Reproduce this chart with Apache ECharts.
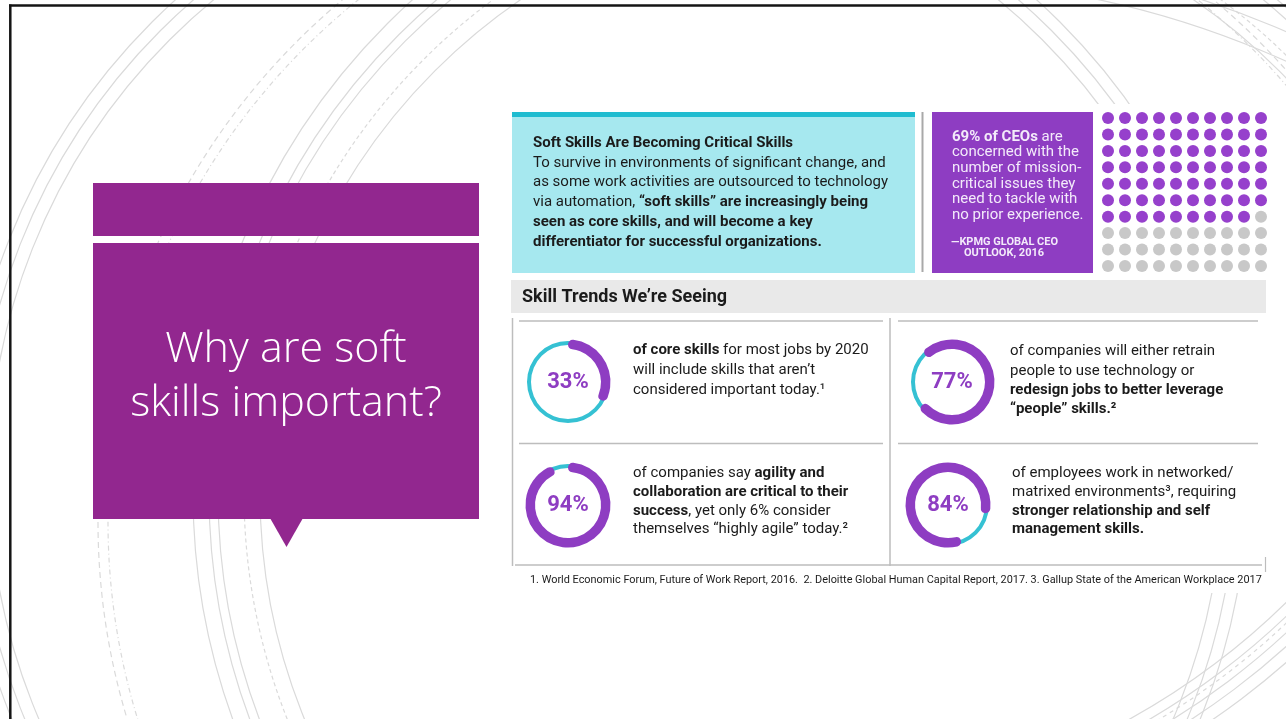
<!DOCTYPE html>
<html><head><meta charset="utf-8">
<script src="https://cdn.jsdelivr.net/npm/echarts@6/dist/echarts.min.js"></script>
<style>html,body{margin:0;padding:0;background:#fff;overflow:hidden}#c{width:1286px;height:719px}</style>
</head><body><div id="c"></div>
<script>
// ---------------- data ----------------
const titleLines = ['Why are soft', 'skills important?'];
const introLines = [
  [['b', 'Soft Skills Are Becoming Critical Skills']],
  [['n', 'To survive in environments of significant change, and']],
  [['n', 'as some work activities are outsourced to technology']],
  [['n', 'via automation, '], ['b', '“soft skills” are increasingly being']],
  [['b', 'seen as core skills, and will become a key']],
  [['b', 'differentiator for successful organizations.']]
];
const ceoShare = 69;      // dots filled out of 100
const ceoTotal = 100;
const ceoLines = [
  [['b', '69% of CEOs'], ['n', ' are']],
  [['n', 'concerned with the']],
  [['n', 'number of mission-']],
  [['n', 'critical issues they']],
  [['n', 'need to tackle with']],
  [['n', 'no prior experience.']]
];
const ceoSource = ['—KPMG GLOBAL CEO', 'OUTLOOK, 2016'];
const sectionTitle = 'Skill Trends We’re Seeing';
const statValues = [33, 77, 94, 84];
const statTexts = [
  [[['b', 'of core skills'], ['n', ' for most jobs by 2020']], [['n', 'will include skills that aren’t']], [['n', 'considered important today.¹']]],
  [[['n', 'of companies will either retrain']], [['n', 'people to use technology or']], [['b', 'redesign jobs to better leverage']], [['b', '“people” skills.²']]],
  [[['n', 'of companies say '], ['b', 'agility and']], [['b', 'collaboration are critical to their']], [['b', 'success'], ['n', ', yet only 6% consider']], [['n', 'themselves “highly agile” today.²']]],
  [[['n', 'of employees work in networked/']], [['n', 'matrixed environments³, requiring']], [['b', 'stronger relationship and self']], [['b', 'management skills.']]]
];
const footnote = '1. World Economic Forum, Future of Work Report, 2016.  2. Deloitte Global Human Capital Report, 2017. 3. Gallup State of the American Workplace 2017';

// ---------------- layout / style ----------------
const FONT = 'Roboto, "Liberation Sans", sans-serif';
const C = {
  slide: '#92278f', purple: '#8e3dc2', dot: '#9640cc', grayDot: '#c8c8c8',
  cyan: '#35c1d3', cyanBox: '#a6e8ef', cyanBar: '#1fbcd0', text: '#1b1b1b',
  line: '#bdbdbd', arc: '#dadada', header: '#e9e9e9'
};
const statCenters = [[568, 382], [952, 382], [568, 505], [948, 505]];
const statStart = [90, 135, 90, 290];
const statTextPos = [[633, [350, 370, 390]], [1010, [351, 371, 390, 409]], [633, [473, 492, 511, 529]], [1012, [473, 492, 511, 529]]];

function richLine(x, y, segs, size, color, nWeight) {
  const mk = (w) => ({ fontSize: size, fontFamily: FONT, fontWeight: w, fill: color, color: color });
  return {
    type: 'text', x: x, y: y, z: 20, silent: true,
    style: {
      text: segs.map(s => '{' + s[0] + '|' + s[1] + '}').join(''),
      rich: { n: mk(nWeight || 400), b: mk(700) },
      align: 'left', verticalAlign: 'middle'
    }
  };
}
function line(x1, y1, x2, y2, color, w, z) {
  return { type: 'line', z: z || 6, silent: true, shape: { x1, y1, x2, y2 }, style: { stroke: color, lineWidth: w } };
}
function rect(x, y, w, h, fill, z) {
  return { type: 'rect', z: z || 2, silent: true, shape: { x, y, width: w, height: h }, style: { fill } };
}

// decorative arcs of the slide theme [cx, cy, r, dash]
const arcs = [
  [606, 476, 642, null], [606, 476, 630, null], [606, 476, 617, null],
  [778, 522, 680, [6, 4]], [778, 522, 670, [5, 3, 1, 3]],
  [857, 493, 664, null], [857, 493, 648, null], [857, 493, 639, null],
  [857, 493, 613, [4, 3]], [857, 493, 597, null]
];
const arcPartial = [
  [903, 913, 934, null, -1.45, -0.9], [903, 913, 961, null, -1.45, -0.9],
  [790, 100, 706, null, 0.5, 1.35], [790, 100, 716, null, 0.5, 1.35], [790, 100, 721, [4, 4], 0.5, 1.35],
  [790, 100, 728, null, 0.5, 1.35], [790, 100, 738, null, 0.5, 1.35], [790, 100, 750, null, 0.5, 1.35]
];

const graphics = [];
arcs.forEach(a => graphics.push({
  type: 'circle', z: 0, silent: true, shape: { cx: a[0], cy: a[1], r: a[2] },
  style: { fill: null, stroke: C.arc, lineWidth: 1.2, lineDash: a[3] }
}));
arcPartial.forEach(a => graphics.push({
  type: 'arc', z: 0, silent: true, shape: { cx: a[0], cy: a[1], r: a[2], startAngle: a[4], endAngle: a[5], clockwise: true },
  style: { fill: null, stroke: C.arc, lineWidth: 1.2, lineDash: a[3] }
}));
// infographic white background
graphics.push(rect(505, 104, 767, 489, '#ffffff', 1));
// slide border
graphics.push(line(9, 5.5, 1286, 5.5, '#141414', 2.5, 30));
graphics.push(line(10.3, 4.5, 10.3, 719, '#141414', 2.5, 30));
// purple title boxes
graphics.push(rect(93, 183, 386, 53, C.slide, 3));
graphics.push(rect(93, 243, 386, 276, C.slide, 3));
graphics.push({ type: 'polygon', z: 3, silent: true, shape: { points: [[270, 518], [303, 518], [286.5, 547]] }, style: { fill: C.slide } });
titleLines.forEach((t, i) => graphics.push({
  type: 'text', x: 286, y: 350 + i * 54, z: 20, silent: true,
  style: { text: t, fill: '#ffffff', fontFamily: '"Open Sans", Lato, sans-serif', fontWeight: 300, fontSize: 43, align: 'center', verticalAlign: 'middle' }
}));
// cyan intro box
graphics.push(rect(512, 112, 403, 161, C.cyanBox, 3));
graphics.push(rect(512, 112, 403, 5, C.cyanBar, 4));
introLines.forEach((l, i) => graphics.push(richLine(533, 143 + i * 19.8, l, 15, C.text)));
graphics.push(line(922.5, 112, 922.5, 272, '#a9a9a9', 2, 4));
// purple CEO box
graphics.push(rect(932, 112, 161, 161, C.purple, 3));
ceoLines.forEach((l, i) => graphics.push(richLine(952, 137 + i * 15.6, l, 15, '#f3eafa')));
graphics.push(richLine(951, 242, [['b', ceoSource[0]]], 11, '#f3eafa'));
graphics.push(richLine(964, 253.5, [['b', ceoSource[1]]], 11, '#f3eafa'));
// section header
graphics.push(rect(511, 280, 755, 33, C.header, 3));
graphics.push(richLine(522, 297, [['b', sectionTitle]], 18, C.text));
// panel rules
graphics.push(line(512.5, 318, 512.5, 566, C.line, 1.5));
graphics.push(line(519, 321, 883, 321, C.line, 1.5));
graphics.push(line(519, 443.5, 883, 443.5, C.line, 1.5));
graphics.push(line(890, 318, 890, 566, C.line, 1.5));
graphics.push(line(898, 321, 1258, 321, C.line, 1.5));
graphics.push(line(898, 443.5, 1258, 443.5, C.line, 1.5));
graphics.push(line(515, 565, 1262, 565, C.line, 1.5));
graphics.push(line(1265.5, 557, 1265.5, 572, C.line, 1.2));
// stat texts
statTexts.forEach((lines, k) => {
  const x = statTextPos[k][0], ys = statTextPos[k][1];
  lines.forEach((l, i) => graphics.push(richLine(x, ys[i], l, 15, C.text)));
});
// footnote
graphics.push({
  type: 'text', x: 530, y: 580, z: 20, silent: true, scaleX: 0.99, scaleY: 1,
  style: { text: footnote, fill: C.text, fontFamily: FONT, fontSize: 11, align: 'left', verticalAlign: 'middle' }
});

// ---------------- series ----------------
const filled = [], empty = [];
for (let i = 0; i < ceoTotal; i++) {
  const p = [i % 10, Math.floor(i / 10)];
  (i < ceoShare ? filled : empty).push(p);
}
const series = [
  { type: 'scatter', name: 'CEOs concerned', data: filled, symbolSize: 12, itemStyle: { color: C.dot, opacity: 1 }, silent: true, z: 5 },
  { type: 'scatter', name: 'Others', data: empty, symbolSize: 12, itemStyle: { color: C.grayDot, opacity: 1 }, silent: true, z: 5 }
];
statValues.forEach((v, k) => {
  series.push({
    type: 'pie', center: statCenters[k], radius: [37, 41], silent: true, z: 5,
    label: { show: false }, labelLine: { show: false }, emphasis: { disabled: true },
    data: [{ value: 100, itemStyle: { color: C.cyan } }]
  });
  series.push({
    type: 'pie', center: statCenters[k], radius: [33, 42.5], startAngle: statStart[k], clockwise: true,
    silent: true, z: 6, avoidLabelOverlap: false, emphasis: { disabled: true },
    label: { show: false }, labelLine: { show: false },
    data: [
      { value: v, itemStyle: { color: C.purple, borderRadius: 5 },
        label: { show: true, position: 'center', formatter: '{c}%', fontSize: 22, fontWeight: 'bold', color: C.purple, fontFamily: FONT } },
      { value: 100 - v, itemStyle: { color: 'rgba(0,0,0,0)' }, label: { show: false } }
    ]
  });
});

const chart = echarts.init(document.getElementById('c'), null, { renderer: 'canvas', width: 1286, height: 719 });
chart.setOption({
  animation: false,
  backgroundColor: '#ffffff',
  grid: { left: 1108, top: 118, width: 153, height: 148, show: false },
  xAxis: { type: 'value', min: 0, max: 9, show: false },
  yAxis: { type: 'value', min: 0, max: 9, inverse: true, show: false },
  graphic: { elements: graphics },
  series: series
});
</script>
</body></html>
